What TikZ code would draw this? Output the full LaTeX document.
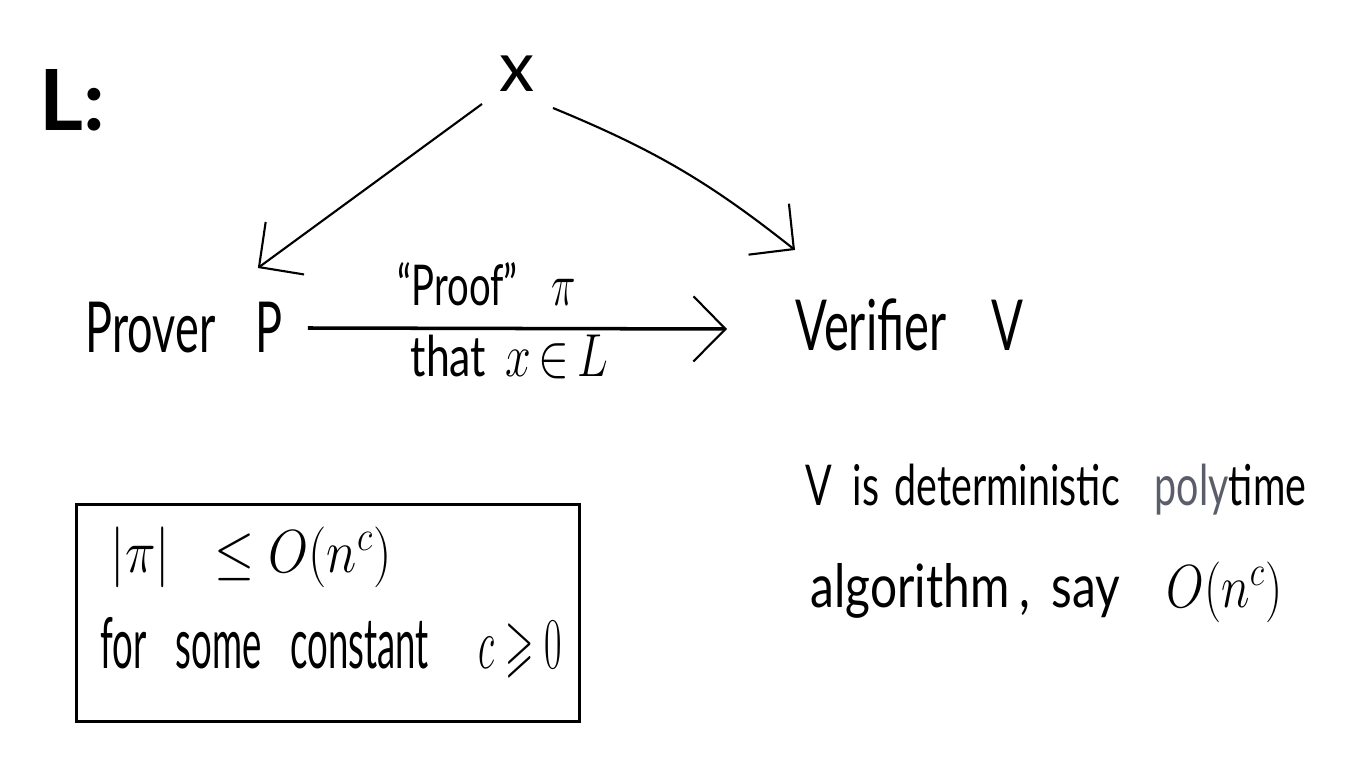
\documentclass[tikz,border=0pt]{standalone}
\usepackage{amssymb}
\usepackage{graphicx}
\usepackage{fontspec}
\setmainfont{Lato}
\usetikzlibrary{arrows.meta,calc}
\definecolor{pencil}{HTML}{5A5E6A}
\newcommand\hw[2]{\scalebox{#1}[1]{#2}}
\tikzset{
  txt/.style={inner sep=0pt, font=\fontsize{20}{24}\selectfont},
  small/.style={inner sep=0pt, font=\fontsize{16}{20}\selectfont},
  conn/.style={line width=0.6pt, -{Straight Barb[length=3.2mm,width=6.5mm,line width=0.6pt]}},
  frame/.style={draw, line width=0.9pt, inner sep=0pt, minimum width=5.03cm, minimum height=2.17cm}
}
\begin{document}
\begin{tikzpicture}[x=0.01cm,y=-0.01cm]
\useasboundingbox (0,0) rectangle (1359,779);
\node[inner sep=0pt, font=\fontsize{24}{28}\selectfont\bfseries] (L) at (72,100) {L:};
\node[txt] (x) at (517,74) {x};
\node[txt, anchor=west] (P) at (85,328) {\hw{0.64}{Prover\hspace{0.62cm}P}};
\node[txt, anchor=west] (V) at (795,325) {\hw{0.67}{Verifier\hspace{0.67cm}V}};
\draw[conn] ($(x.center)+(-35,30)$) -- ($(P.east)+(-25,-60)$);
\draw[conn] ($(x.center)+(36,34)$) to[bend left=8] ($(V.west)+(0,-75)$);
\draw[conn, line width=1pt] ($(P.east)+(25,0)$) -- ($(V.west)+(-68,4)$);
\node[small, anchor=west] (pf) at (397,284) {\hw{0.68}{``Proof''\hspace{0.5cm}$\pi$}};
\node[small, anchor=west] (th) at (410,357) {\hw{0.76}{that\hspace{0.25cm}$x\,{\in}\,L$}};
\node[frame, anchor=north west] (box) at (75,503) {};
\node[txt, font=\fontsize{18}{22}\selectfont, anchor=west] (b1) at (110,557) {\hw{0.85}{$|\pi|\hspace{0.35cm}\leq O(n^c)$}};
\node[txt, anchor=west] (b2) at (100,648) {\hw{0.52}{for\hspace{0.55cm}some\hspace{0.55cm}constant\hspace{0.96cm}$c \geqslant 0$}};
\node[small, anchor=west] (r1) at (805,490) {\hw{0.7}{V\hspace{0.29cm}is\hspace{0.22cm}deterministic\hspace{0.5cm}\textcolor{pencil}{poly}time}};
\node[txt, font=\fontsize{17}{20}\selectfont, anchor=west] (r2) at (810,592) {\hw{0.8}{algorithm\hspace{0.13cm},\hspace{0.26cm}say\hspace{0.58cm}$O(n^c)$}};
\end{tikzpicture}
\end{document}
